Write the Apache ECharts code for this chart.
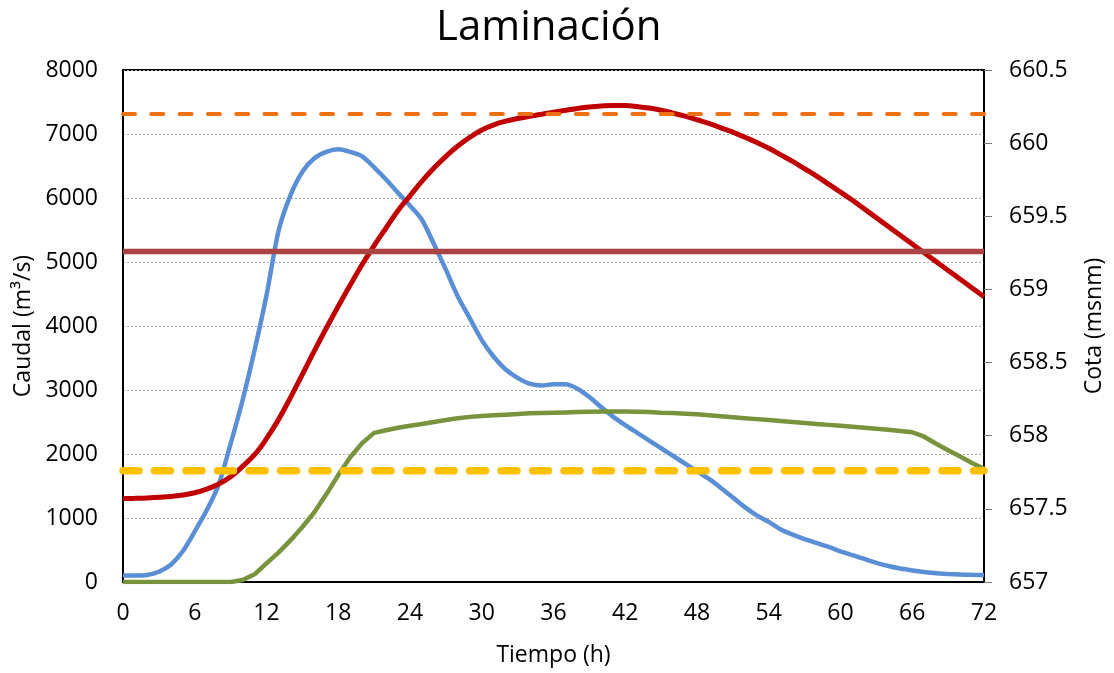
<!DOCTYPE html>
<html>
<head>
<meta charset="utf-8">
<script src="https://cdn.jsdelivr.net/npm/echarts@6/dist/echarts.min.js"></script>
<style>
html,body{margin:0;padding:0;background:#fff;}
#chart{width:1114px;height:673px;}
</style>
</head>
<body>
<div id="chart"></div>
<script>
// ---- Data ----
var hours = [];
for (var h = 0; h <= 72; h++) hours.push(h);

// Inflow hydrograph (m3/s) - blue
var inflow = [100,100,110,160,270,480,790,1120,1520,2160,2840,3620,4480,5480,6040,6410,6620,6720,6760,6720,6650,6480,6290,6080,5880,5660,5280,4880,4460,4120,3780,3520,3320,3190,3100,3070,3090,3090,3020,2890,2730,2580,2450,2330,2210,2090,1970,1850,1730,1610,1470,1320,1170,1040,940,820,740,670,610,550,480,420,360,300,250,210,180,155,135,125,118,112,110];

// Outflow (m3/s) - green
var outflow = [0,0,0,0,0,0,0,0,0,0,30,120,290,460,650,860,1090,1370,1670,1950,2170,2330,2370,2410,2440,2470,2500,2530,2560,2580,2595,2605,2615,2625,2635,2640,2645,2650,2655,2660,2665,2665,2665,2660,2655,2645,2640,2630,2620,2605,2590,2575,2560,2545,2530,2515,2500,2485,2470,2455,2440,2425,2410,2395,2380,2360,2340,2270,2160,2060,1960,1860,1770];

// Reservoir level (msnm) - red
var level = [657.57,657.572,657.575,657.58,657.585,657.595,657.61,657.635,657.67,657.72,657.79,657.87,657.98,658.11,658.26,658.42,658.58,658.735,658.885,659.03,659.17,659.30,659.42,659.54,659.64,659.74,659.83,659.91,659.98,660.04,660.09,660.125,660.15,660.168,660.184,660.198,660.212,660.225,660.237,660.247,660.254,660.258,660.257,660.25,660.24,660.225,660.205,660.185,660.16,660.135,660.105,660.075,660.04,660.005,659.965,659.92,659.875,659.825,659.775,659.72,659.665,659.61,659.55,659.49,659.43,659.37,659.31,659.25,659.19,659.13,659.07,659.01,658.95];

// Reference levels (msnm)
var levelOrange = 660.2;
var levelBrown = 659.26;
var levelYellow = 657.76;
var levelSpan = [0, 72];

// Axis tick settings
var xTicks = {min: 0, max: 72, interval: 6};
var qTicks = {min: 0, max: 8000, interval: 1000};
var zTicks = {min: 657, max: 660.5, interval: 0.5};

function pairs(xs, ys){ return xs.map(function(x,i){ return [x, ys[i]]; }); }
function hline(v){ return levelSpan.map(function(x){ return [x, v]; }); }

var FONT = "'Open Sans', 'Noto Sans', sans-serif";
var chart = echarts.init(document.getElementById('chart'), null, {renderer:'canvas'});
chart.setOption({
  animation: false,
  backgroundColor: '#fff',
  title: {
    text: 'Laminación',
    left: 431, top: 2,
    textStyle: {fontFamily: FONT, fontSize: 42, fontWeight: 'normal', color: '#000'}
  },
  grid: {left: 123, right: 127, top: 70, bottom: 91, show: true, borderColor: '#000', borderWidth: 2},
  xAxis: {
    type: 'value', min: xTicks.min, max: xTicks.max, interval: xTicks.interval,
    name: 'Tiempo (h)', nameLocation: 'middle', nameGap: 62,
    nameTextStyle: {fontFamily: FONT, fontSize: 23, color: '#000'},
    axisLine: {show: true, lineStyle: {color: '#000', width: 2}},
    axisTick: {show: false},
    axisLabel: {fontFamily: FONT, fontSize: 23, color: '#000', margin: 20},
    splitLine: {show: false}
  },
  yAxis: [{
    type: 'value', min: qTicks.min, max: qTicks.max, interval: qTicks.interval,
    name: 'Caudal (m³/s)', nameLocation: 'middle', nameGap: 88,
    nameTextStyle: {fontFamily: FONT, fontSize: 23, color: '#000'},
    axisLine: {show: true, lineStyle: {color: '#000', width: 2}},
    axisTick: {show: false},
    axisLabel: {fontFamily: FONT, fontSize: 23, color: '#000', margin: 25,
      formatter: function(v){ return String(v); }},
    splitLine: {show: true, lineStyle: {color: '#a6a6a6', width: 1, type: [2, 2]}}
  }, {
    type: 'value', min: zTicks.min, max: zTicks.max, interval: zTicks.interval,
    position: 'right',
    name: 'Cota (msnm)', nameLocation: 'middle', nameGap: 99,
    nameTextStyle: {fontFamily: FONT, fontSize: 23, color: '#000'},
    axisLine: {show: true, lineStyle: {color: '#000', width: 2}},
    axisTick: {show: true, inside: false, length: 8, lineStyle: {color: '#777', width: 1}},
    axisLabel: {fontFamily: FONT, fontSize: 23, color: '#000', margin: 25,
      formatter: function(v){ return String(v); }},
    splitLine: {show: false}
  }],
  series: [{
    name: 'Hidrograma de entrada', type: 'line', yAxisIndex: 0, showSymbol: false, smooth: 0.25,
    data: pairs(hours, inflow), lineStyle: {color: '#5a8fd6', width: 4.5}, z: 3
  }, {
    name: 'Hidrograma de salida', type: 'line', yAxisIndex: 0, showSymbol: false,
    data: pairs(hours, outflow), lineStyle: {color: '#77933c', width: 4.5}, z: 3
  }, {
    name: 'Nivel', type: 'line', yAxisIndex: 1, showSymbol: false, smooth: 0.4,
    data: pairs(hours, level), lineStyle: {color: '#c00000', width: 5}, z: 4
  }, {
    name: 'Nivel B', type: 'line', yAxisIndex: 1, showSymbol: false,
    data: hline(levelBrown), lineStyle: {color: '#a94442', width: 5.5}, z: 5
  }, {
    name: 'Nivel A', type: 'line', yAxisIndex: 1, showSymbol: false,
    data: hline(levelYellow), lineStyle: {color: '#ffc000', width: 7.5, type: [16, 15.5], cap: 'round'}, z: 5
  }, {
    name: 'Nivel C', type: 'line', yAxisIndex: 1, showSymbol: false,
    data: hline(levelOrange), lineStyle: {color: '#ed7014', width: 4, type: [12, 16.3], cap: 'round'}, z: 6
  }]
});
</script>
</body>
</html>
